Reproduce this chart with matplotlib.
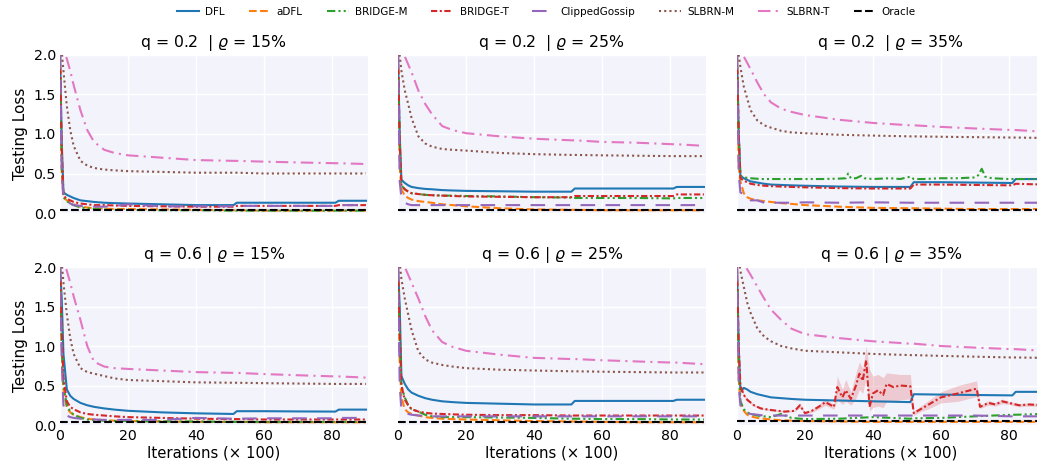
import numpy as np
import matplotlib.pyplot as plt

# shared iteration grid (x 100)
iters = [0, 0.5, 1, 2, 3, 4, 6, 8, 10, 13, 16, 20, 30, 40, 51, 52, 60, 70, 81, 82, 90]

methods = ['DFL', 'aDFL', 'BRIDGE-M', 'BRIDGE-T', 'ClippedGossip', 'SLBRN-M', 'SLBRN-T', 'Oracle']
colors = ['#1f77b4', '#ff7f0e', '#2ca02c', '#d62728', '#9467bd', '#8c564b', '#e377c2', 'black']
styles = ['-', '--', (0, (4, 1.5, 1, 1.5, 1, 1.5)), (0, (3, 1.2, 1, 1.2)), (0, (7, 5)),
          (0, (1, 1.5)), (0, (6, 2.5, 1, 2.5)), '--']

titles = [r'q = 0.2  | $\varrho$ = 15%', r'q = 0.2  | $\varrho$ = 25%', r'q = 0.2  | $\varrho$ = 35%',
          r'q = 0.6 | $\varrho$ = 15%', r'q = 0.6 | $\varrho$ = 25%', r'q = 0.6 | $\varrho$ = 35%']

oracle = [0.04, 0.04, 0.04, 0.04, 0.04, 0.05]

# ---- q = 0.2, rho = 15% ----
p1_dfl = [2.0, 0.9, 0.26, 0.23, 0.21, 0.19, 0.16, 0.15, 0.14, 0.13, 0.125, 0.12, 0.11, 0.1, 0.1, 0.13, 0.13, 0.13, 0.13, 0.155, 0.155]
p1_adfl = [2.0, 0.5, 0.2, 0.16, 0.13, 0.11, 0.08, 0.07, 0.06, 0.055, 0.05, 0.05, 0.045, 0.04, 0.035, 0.035, 0.03, 0.03, 0.03, 0.03, 0.03]
p1_bm = [2.0, 0.6, 0.2, 0.15, 0.12, 0.1, 0.07, 0.06, 0.05, 0.045, 0.04, 0.04, 0.035, 0.035, 0.03, 0.03, 0.03, 0.03, 0.03, 0.03, 0.03]
p1_bt = [2.0, 0.8, 0.22, 0.18, 0.16, 0.14, 0.12, 0.11, 0.1, 0.1, 0.095, 0.09, 0.085, 0.08, 0.08, 0.09, 0.09, 0.09, 0.09, 0.1, 0.1]
p1_cg = [2.0, 0.5, 0.2, 0.15, 0.12, 0.1, 0.09, 0.08, 0.08, 0.08, 0.09, 0.11, 0.085, 0.085, 0.085, 0.09, 0.09, 0.09, 0.09, 0.1, 0.1]
p1_sm = [2.4, 2.05, 1.8, 1.35, 1.05, 0.85, 0.66, 0.6, 0.57, 0.55, 0.54, 0.53, 0.52, 0.51, 0.51, 0.51, 0.5, 0.5, 0.5, 0.5, 0.5]
p1_st = [2.6, 2.4, 2.1, 1.95, 1.8, 1.62, 1.3, 1.05, 0.9, 0.8, 0.76, 0.73, 0.7, 0.67, 0.66, 0.66, 0.65, 0.64, 0.63, 0.63, 0.62]

# ---- q = 0.2, rho = 25% ----
p2_dfl = [2.0, 1.0, 0.42, 0.38, 0.35, 0.33, 0.315, 0.305, 0.3, 0.29, 0.285, 0.28, 0.275, 0.27, 0.27, 0.31, 0.31, 0.31, 0.31, 0.33, 0.33]
p2_adfl = [2.0, 0.6, 0.3, 0.22, 0.19, 0.17, 0.15, 0.14, 0.13, 0.11, 0.1, 0.085, 0.06, 0.045, 0.04, 0.04, 0.035, 0.035, 0.035, 0.035, 0.035]
p2_bm = [2.0, 0.9, 0.35, 0.3, 0.27, 0.25, 0.24, 0.23, 0.225, 0.22, 0.22, 0.215, 0.21, 0.2, 0.195, 0.19, 0.19, 0.19, 0.185, 0.19, 0.19]
p2_bt = [2.0, 0.9, 0.35, 0.3, 0.27, 0.25, 0.24, 0.23, 0.225, 0.22, 0.215, 0.21, 0.205, 0.2, 0.2, 0.215, 0.215, 0.215, 0.215, 0.235, 0.235]
p2_cg = [2.0, 0.4, 0.2, 0.13, 0.11, 0.1, 0.1, 0.1, 0.1, 0.1, 0.1, 0.1, 0.1, 0.1, 0.1, 0.1, 0.1, 0.1, 0.1, 0.1, 0.1]
p2_sm = [2.4, 2.0, 1.8, 1.55, 1.38, 1.2, 0.97, 0.88, 0.84, 0.81, 0.8, 0.79, 0.76, 0.745, 0.735, 0.735, 0.73, 0.725, 0.72, 0.72, 0.72]
p2_st = [2.6, 2.4, 2.15, 1.98, 1.88, 1.78, 1.55, 1.38, 1.25, 1.1, 1.05, 1.01, 0.97, 0.94, 0.92, 0.92, 0.9, 0.89, 0.87, 0.87, 0.85]

# ---- q = 0.2, rho = 35% ----
p3_dfl = [2.0, 1.0, 0.47, 0.44, 0.42, 0.4, 0.385, 0.37, 0.36, 0.355, 0.35, 0.345, 0.335, 0.33, 0.33, 0.39, 0.39, 0.385, 0.38, 0.43, 0.43]
p3_adfl = [2.0, 0.6, 0.4, 0.25, 0.2, 0.18, 0.16, 0.15, 0.14, 0.125, 0.115, 0.1, 0.08, 0.065, 0.06, 0.06, 0.055, 0.05, 0.05, 0.05, 0.05]
p3_bt = [2.0, 1.0, 0.44, 0.41, 0.39, 0.37, 0.355, 0.345, 0.34, 0.335, 0.33, 0.325, 0.315, 0.31, 0.31, 0.36, 0.36, 0.355, 0.35, 0.37, 0.36]
p3_cg = [2.0, 0.5, 0.26, 0.24, 0.2, 0.16, 0.16, 0.13, 0.13, 0.13, 0.13, 0.135, 0.13, 0.135, 0.13, 0.13, 0.13, 0.13, 0.13, 0.13, 0.13]
p3_sm = [2.4, 2.0, 1.85, 1.6, 1.45, 1.3, 1.17, 1.11, 1.08, 1.04, 1.02, 1.01, 0.99, 0.98, 0.97, 0.97, 0.965, 0.96, 0.955, 0.955, 0.95]
p3_st = [2.6, 2.4, 2.15, 1.98, 1.9, 1.82, 1.65, 1.5, 1.4, 1.32, 1.28, 1.24, 1.18, 1.14, 1.11, 1.11, 1.09, 1.07, 1.05, 1.05, 1.03]
# BRIDGE-M is noisy here, own iteration points
p3_bm_x = [0, 0.5, 1, 2, 4, 7, 10, 15, 20, 25, 30, 32, 32.7, 33.5, 35, 36.5, 37.5, 40, 45, 48, 50, 51, 52,
           55, 60, 65, 70, 71, 72, 73, 75, 80, 85, 90]
p3_bm = [2.0, 1.0, 0.47, 0.45, 0.44, 0.43, 0.43, 0.43, 0.43, 0.43, 0.435, 0.44, 0.5, 0.44, 0.44, 0.47, 0.44,
         0.43, 0.44, 0.43, 0.45, 0.46, 0.43, 0.43, 0.44, 0.44, 0.45, 0.48, 0.56, 0.46, 0.44, 0.43, 0.43, 0.43]

# ---- q = 0.6, rho = 15% ----
p4_dfl = [2.0, 1.6, 0.9, 0.45, 0.37, 0.33, 0.28, 0.25, 0.23, 0.21, 0.195, 0.18, 0.16, 0.148, 0.14, 0.175, 0.175, 0.172, 0.17, 0.195, 0.195]
p4_adfl = [2.0, 1.0, 0.45, 0.22, 0.16, 0.13, 0.1, 0.08, 0.07, 0.06, 0.055, 0.05, 0.045, 0.04, 0.04, 0.04, 0.035, 0.035, 0.035, 0.035, 0.035]
p4_bm = [2.0, 1.0, 0.5, 0.25, 0.17, 0.13, 0.09, 0.07, 0.06, 0.055, 0.05, 0.05, 0.045, 0.045, 0.04, 0.04, 0.04, 0.04, 0.04, 0.04, 0.04]
p4_bt = [2.0, 1.2, 0.6, 0.3, 0.23, 0.2, 0.16, 0.14, 0.13, 0.12, 0.11, 0.1, 0.09, 0.08, 0.075, 0.075, 0.07, 0.07, 0.07, 0.07, 0.07]
p4_cg = [2.0, 0.8, 0.25, 0.12, 0.1, 0.09, 0.08, 0.075, 0.07, 0.065, 0.065, 0.065, 0.065, 0.09, 0.08, 0.08, 0.085, 0.085, 0.085, 0.09, 0.09]
p4_sm = [2.4, 2.05, 1.8, 1.4, 1.1, 0.9, 0.72, 0.67, 0.65, 0.62, 0.59, 0.57, 0.555, 0.54, 0.535, 0.535, 0.53, 0.525, 0.52, 0.52, 0.52]
p4_st = [2.6, 2.4, 2.1, 1.95, 1.8, 1.63, 1.33, 1.0, 0.8, 0.74, 0.72, 0.71, 0.69, 0.67, 0.66, 0.66, 0.645, 0.63, 0.615, 0.615, 0.6]

# ---- q = 0.6, rho = 25% ----
p5_dfl = [2.0, 1.5, 0.62, 0.52, 0.45, 0.41, 0.37, 0.34, 0.32, 0.3, 0.29, 0.28, 0.27, 0.26, 0.26, 0.305, 0.305, 0.305, 0.305, 0.32, 0.32]
p5_adfl = [2.0, 0.8, 0.35, 0.2, 0.16, 0.14, 0.12, 0.1, 0.09, 0.08, 0.075, 0.07, 0.06, 0.05, 0.045, 0.045, 0.04, 0.035, 0.035, 0.035, 0.035]
p5_bm = [2.0, 1.2, 0.5, 0.35, 0.25, 0.2, 0.17, 0.13, 0.11, 0.1, 0.1, 0.1, 0.095, 0.09, 0.08, 0.08, 0.075, 0.075, 0.07, 0.07, 0.07]
p5_bt = [2.0, 1.2, 0.5, 0.32, 0.25, 0.2, 0.17, 0.155, 0.145, 0.14, 0.135, 0.13, 0.125, 0.125, 0.12, 0.12, 0.12, 0.12, 0.12, 0.12, 0.12]
p5_cg = [2.0, 0.5, 0.2, 0.16, 0.14, 0.13, 0.12, 0.115, 0.11, 0.11, 0.11, 0.11, 0.11, 0.11, 0.11, 0.11, 0.11, 0.11, 0.11, 0.11, 0.11]
p5_sm = [2.4, 2.05, 1.85, 1.6, 1.4, 1.2, 0.93, 0.83, 0.79, 0.76, 0.74, 0.72, 0.7, 0.69, 0.68, 0.68, 0.675, 0.67, 0.665, 0.665, 0.665]
p5_st = [2.6, 2.4, 2.15, 2.0, 1.9, 1.8, 1.6, 1.38, 1.2, 1.05, 0.99, 0.94, 0.89, 0.85, 0.835, 0.835, 0.82, 0.805, 0.79, 0.79, 0.77]

# ---- q = 0.6, rho = 35% ----
p6_dfl = [2.0, 1.0, 0.42, 0.47, 0.45, 0.42, 0.39, 0.37, 0.35, 0.34, 0.33, 0.32, 0.31, 0.3, 0.29, 0.39, 0.385, 0.38, 0.375, 0.42, 0.42]
p6_adfl = [2.0, 0.6, 0.3, 0.18, 0.13, 0.11, 0.09, 0.08, 0.07, 0.06, 0.055, 0.05, 0.045, 0.04, 0.04, 0.04, 0.04, 0.04, 0.04, 0.04, 0.04]
p6_bm = [2.0, 0.8, 0.3, 0.2, 0.16, 0.14, 0.12, 0.11, 0.1, 0.14, 0.09, 0.075, 0.08, 0.1, 0.08, 0.085, 0.09, 0.11, 0.13, 0.13, 0.14]
p6_cg = [2.0, 0.5, 0.25, 0.18, 0.15, 0.14, 0.13, 0.12, 0.12, 0.12, 0.12, 0.12, 0.12, 0.12, 0.12, 0.12, 0.12, 0.12, 0.11, 0.11, 0.11]
p6_sm = [2.4, 2.1, 1.95, 1.75, 1.55, 1.42, 1.22, 1.12, 1.06, 1.0, 0.97, 0.94, 0.92, 0.9, 0.885, 0.885, 0.875, 0.865, 0.855, 0.855, 0.85]
p6_st = [2.6, 2.4, 2.2, 2.05, 1.97, 1.9, 1.75, 1.6, 1.46, 1.33, 1.22, 1.15, 1.1, 1.06, 1.03, 1.03, 1.0, 0.98, 0.96, 0.96, 0.94]
# BRIDGE-T is noisy here, with a visible spread band
p6_bt_x = [0, 0.5, 1, 2, 3, 5, 7, 10, 14, 17, 18.5, 20, 22, 24, 26, 28.5, 29.5, 31, 32, 33.5, 35, 36, 37, 38,
           39, 40, 41.5, 43, 44, 46, 48, 51, 52, 54, 56, 60, 65, 70.5, 71.5, 74, 76, 78, 80, 83, 86, 90]
p6_bt = [2.0, 1.0, 0.5, 0.38, 0.32, 0.25, 0.21, 0.19, 0.17, 0.18, 0.25, 0.15, 0.18, 0.23, 0.29, 0.23, 0.48, 0.35,
         0.44, 0.33, 0.5, 0.65, 0.56, 0.82, 0.23, 0.4, 0.44, 0.38, 0.52, 0.48, 0.5, 0.49, 0.15, 0.2, 0.25, 0.35,
         0.4, 0.46, 0.23, 0.28, 0.26, 0.3, 0.28, 0.25, 0.26, 0.25]
p6_bt_lo = [2.0, 0.95, 0.47, 0.36, 0.3, 0.24, 0.2, 0.18, 0.16, 0.17, 0.22, 0.14, 0.16, 0.2, 0.25, 0.2, 0.32, 0.26,
            0.3, 0.25, 0.34, 0.45, 0.4, 0.6, 0.18, 0.22, 0.24, 0.22, 0.3, 0.3, 0.32, 0.33, 0.12, 0.17, 0.2, 0.28,
            0.3, 0.36, 0.21, 0.25, 0.24, 0.27, 0.26, 0.23, 0.24, 0.23]
p6_bt_hi = [2.0, 1.05, 0.53, 0.4, 0.34, 0.26, 0.22, 0.2, 0.18, 0.19, 0.28, 0.16, 0.2, 0.26, 0.33, 0.26, 0.62, 0.45,
            0.58, 0.42, 0.66, 0.8, 0.72, 1.0, 0.7, 0.62, 0.64, 0.6, 0.66, 0.65, 0.64, 0.64, 0.18, 0.24, 0.3, 0.42,
            0.5, 0.56, 0.25, 0.31, 0.28, 0.33, 0.3, 0.27, 0.28, 0.27]

panels = [
    [p1_dfl, p1_adfl, p1_bm, p1_bt, p1_cg, p1_sm, p1_st],
    [p2_dfl, p2_adfl, p2_bm, p2_bt, p2_cg, p2_sm, p2_st],
    [p3_dfl, p3_adfl, (p3_bm_x, p3_bm), p3_bt, p3_cg, p3_sm, p3_st],
    [p4_dfl, p4_adfl, p4_bm, p4_bt, p4_cg, p4_sm, p4_st],
    [p5_dfl, p5_adfl, p5_bm, p5_bt, p5_cg, p5_sm, p5_st],
    [p6_dfl, p6_adfl, p6_bm, (p6_bt_x, p6_bt), p6_cg, p6_sm, p6_st],
]

plt.rcParams['font.family'] = 'DejaVu Sans'
fig = plt.figure(figsize=(10.37, 4.70), dpi=100)

lefts = [0.0579, 0.3838, 0.7107]
bottoms = [0.5468, 0.0957]
w, h = 0.297, 0.3362

for k in range(6):
    r, c = divmod(k, 3)
    ax = fig.add_axes([lefts[c], bottoms[r], w, h])
    ax.set_facecolor('#f3f3fc')
    for s in ax.spines.values():
        s.set_visible(False)
    ax.grid(True, color='white', linewidth=1.0)
    ax.set_axisbelow(True)

    if k == 5:
        ax.fill_between(p6_bt_x, p6_bt_lo, p6_bt_hi, color=colors[3], alpha=0.2, linewidth=0)

    handles = []
    for i, series in enumerate(panels[k]):
        if isinstance(series, tuple):
            xs, ys = series
        else:
            xs, ys = iters, series
        ln, = ax.plot(xs, ys, color=colors[i], linestyle=styles[i], linewidth=1.5)
        handles.append(ln)
    ln, = ax.plot([0, 90], [oracle[k], oracle[k]], color=colors[7], linestyle=styles[7], linewidth=1.5)
    handles.append(ln)

    ax.set_xlim(0, 90.6)
    ax.set_ylim(0, 2.0)
    ax.set_xticks([0, 20, 40, 60, 80])
    ax.set_yticks([0, 0.5, 1.0, 1.5, 2.0])
    ax.tick_params(length=0, labelsize=10.2, pad=3)
    ax.set_title(titles[k], fontsize=11.3, pad=6)
    if c == 0:
        ax.set_ylabel('Testing Loss', fontsize=11)
    else:
        ax.set_yticklabels([])
    if r == 1:
        ax.set_xlabel('Iterations (× 100)', fontsize=10.7, labelpad=2)
    else:
        ax.set_xticklabels([])

fig.legend(handles, methods, loc='upper center', bbox_to_anchor=(0.527, 1.005), ncol=8,
           frameon=False, fontsize=7.5, handlelength=2.1, handletextpad=0.6, columnspacing=2.3)

fig.savefig('out.png', dpi=100)
